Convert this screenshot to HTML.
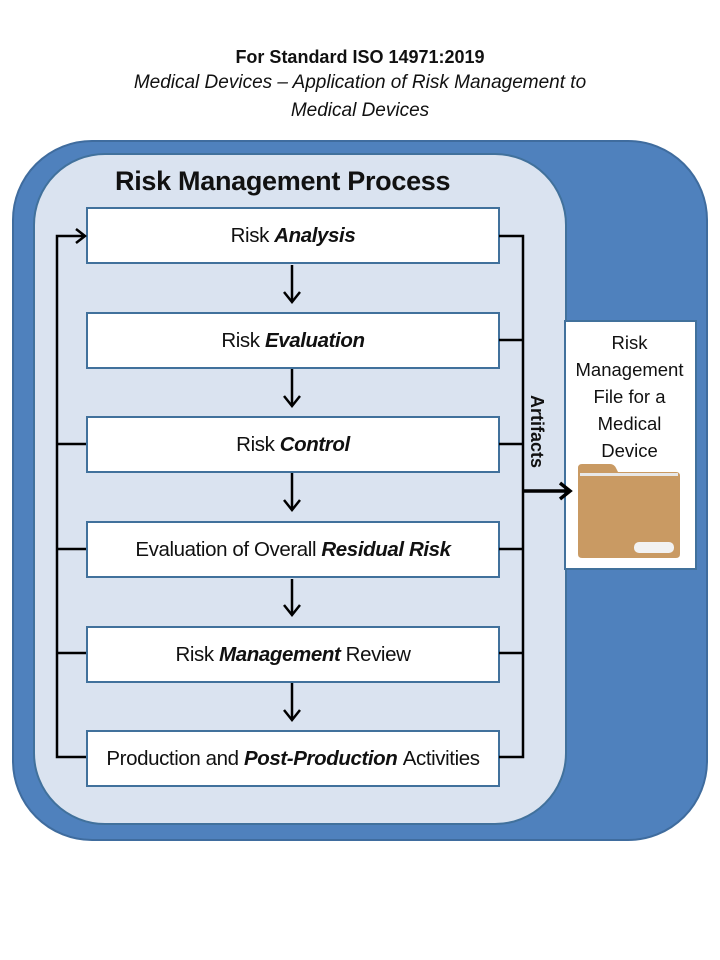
<!DOCTYPE html>
<html><head><style>
body{margin:0;width:720px;height:960px;background:#fff;font-family:"Liberation Sans",sans-serif;position:relative;overflow:hidden}
.t{position:absolute;left:0;width:720px;text-align:center;font-size:19px;color:#111}
.box{position:absolute;left:86px;width:410px;height:53px;background:#fff;border:2px solid #41719c;display:flex;align-items:center;justify-content:center;font-size:20.5px;color:#111;letter-spacing:-0.4px}
b i{font-style:italic}
</style></head><body>
<div class="t" style="top:47px;font-weight:bold;font-size:18px">For Standard ISO 14971:2019</div>
<div class="t" style="top:72px;font-style:italic">Medical Devices – Application of Risk Management to</div>
<div class="t" style="top:100px;font-style:italic">Medical Devices</div>
<div style="position:absolute;left:12px;top:140px;width:692px;height:697px;background:#4f81bd;border:2px solid #3f6c9e;border-radius:80px"></div>
<div style="position:absolute;left:33px;top:153px;width:530px;height:668px;background:#dae3f0;border:2px solid #41719c;border-radius:72px"></div>
<div style="position:absolute;left:115px;top:166px;font-size:27px;font-weight:bold;color:#111;letter-spacing:-0.3px">Risk Management Process</div>
<div class="box" style="top:207px">Risk&nbsp;<b><i>Analysis</i></b></div>
<div class="box" style="top:312px">Risk&nbsp;<b><i>Evaluation</i></b></div>
<div class="box" style="top:416px">Risk&nbsp;<b><i>Control</i></b></div>
<div class="box" style="top:521px">Evaluation of Overall&nbsp;<b><i>Residual Risk</i></b></div>
<div class="box" style="top:626px">Risk&nbsp;<b><i>Management</i></b>&nbsp;Review</div>
<div class="box" style="top:730px">Production and&nbsp;<b><i>Post-Production</i></b>&nbsp;Activities</div>
<div style="position:absolute;left:564px;top:320px;width:129px;height:246px;background:#fff;border:2px solid #41719c"></div>
<div style="position:absolute;left:564px;top:329px;width:131px;text-align:center;font-size:18.5px;line-height:27px;color:#111">Risk<br>Management<br>File for a<br>Medical<br>Device</div>
<svg style="position:absolute;left:574px;top:464px" width="110" height="96">
<path d="M4 4Q4 0 8 0H36Q40 0 42 4L44 8H102Q106 8 106 12V90Q106 94 102 94H8Q4 94 4 90Z" fill="#c99a63"/>
<rect x="6" y="9" width="98" height="6" fill="#e8e8e8"/>
<path d="M6 12H104V20H6Z" fill="#c99a63"/>
<rect x="60" y="78" width="40" height="11" rx="5" fill="#f2f2f2"/>
</svg>
<svg style="position:absolute;left:0;top:0" width="720" height="960">
<g stroke="#000" stroke-width="2.5" fill="none">
<path d="M292 265V300M292 369V404M292 473V509M292 579V614M292 683V718"/>
<path d="M284 292L292 302L300 292M284 396L292 406L300 396M284 500L292 510L300 500M284 605L292 615L300 605M284 710L292 720L300 710"/>
<path d="M86 757H57V236H84M76 229L85 236L76 243"/>
<path d="M57 444H86M57 549H86M57 653H86"/>
<path d="M499 236H523V757H499M499 340H523M499 444H523M499 549H523M499 653H523"/>
<path d="M523 491H568" stroke-width="3.5"/>
<path d="M560 483L570 491L560 499" stroke-width="3.5"/>
</g>
<text x="531" y="395" transform="rotate(90 531 395)" font-family="Liberation Sans" font-weight="bold" font-size="18" fill="#111">Artifacts</text>
</svg>
</body></html>
